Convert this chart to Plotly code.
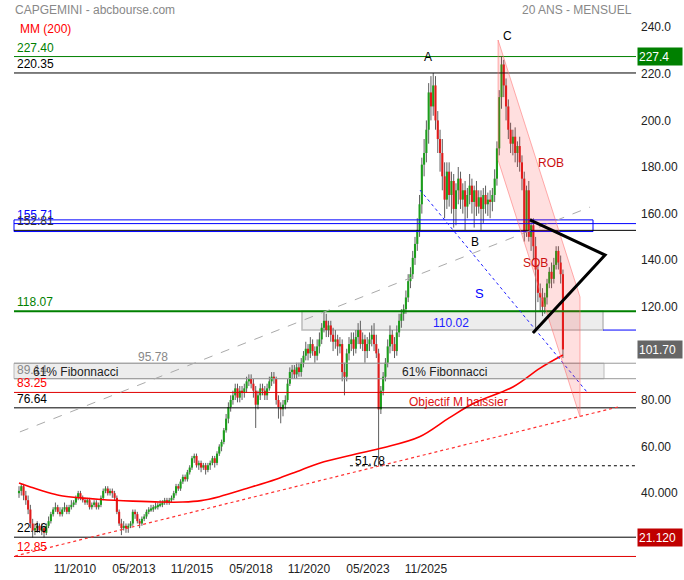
import plotly.graph_objects as go

# ---------------- data (monthly candles, 20 years) ----------------
open_ = [
    40, 41, 43, 39, 37, 33, 27, 24, 25, 26, 24, 25,
    23, 26, 28, 31, 33, 34, 32, 31, 33, 34, 32, 34,
    35, 36, 38, 40, 38, 37, 36, 37, 34, 35, 36, 34,
    35, 38, 41, 42, 40, 41, 40, 38, 32, 27, 25, 26,
    25, 26, 27, 32, 31, 28, 27, 29, 30, 32, 33, 33,
    34, 34, 35, 35, 36, 37, 36, 37, 38, 40, 43, 42,
    45, 47, 46, 49, 51, 55, 56, 52, 53, 51, 52, 50,
    52, 53, 55, 53, 57, 60, 62, 67, 72, 77, 80, 82,
    85, 81, 84, 83, 85, 88, 89, 87, 84, 78, 82, 85,
    84, 82, 85, 88, 90, 89, 80, 77, 76, 78, 80, 87,
    92, 93, 91, 94, 92, 96, 99, 102, 100, 104, 101, 99,
    103, 106, 111, 114, 110, 112, 108, 105, 106, 103, 104, 92,
    90, 100, 104, 106, 102, 107, 110, 104, 106, 101, 104, 106,
    108, 104, 100, 76, 84, 90, 96, 103, 108, 104, 101, 109,
    114, 117, 119, 124, 131, 134, 141, 147, 153, 164, 181, 186,
    196, 212, 206, 215, 200, 192, 186, 176, 166, 178, 168, 174,
    162, 170, 175, 166, 170, 163, 168, 172, 165, 170, 163, 167,
    162, 168, 164, 166, 165, 168, 175, 188, 210, 224, 215, 206,
    196, 190, 193, 186, 189, 182, 175, 152, 170, 150, 155, 146,
    136, 126, 124, 120, 124, 130, 135, 132, 138, 144, 139, 134,
]
high = [
    43, 44, 44, 41, 39, 35, 29, 27, 28, 27, 27, 26,
    27, 30, 32, 34, 36, 35, 34, 34, 36, 35, 35, 37,
    37, 39, 41, 41, 39, 38, 38, 38, 36, 37, 37, 36,
    39, 42, 43, 43, 42, 42, 41, 39, 33, 29, 28, 27,
    27, 28, 33, 33, 32, 29, 30, 31, 33, 34, 35, 35,
    36, 36, 37, 37, 38, 38, 38, 39, 41, 44, 44, 46,
    48, 48, 50, 52, 56, 57, 57, 54, 54, 53, 53, 53,
    54, 56, 56, 58, 61, 63, 68, 74, 79, 82, 84, 87,
    87, 86, 86, 87, 90, 91, 91, 89, 86, 84, 87, 87,
    86, 87, 90, 92, 92, 90, 82, 79, 80, 82, 89, 94,
    95, 95, 96, 96, 98, 101, 105, 104, 107, 106, 103, 106,
    109, 113, 118, 117, 114, 114, 111, 110, 108, 107, 106, 96,
    102, 107, 109, 109, 110, 113, 114, 109, 108, 107, 109, 112,
    113, 108, 102, 86, 92, 98, 106, 112, 110, 107, 112, 117,
    119, 121, 127, 134, 137, 144, 150, 158, 168, 184, 192, 200,
    216, 219, 220.35, 219, 204, 196, 192, 182, 182, 182, 178, 177,
    173, 180, 178, 173, 174, 171, 177, 175, 172, 174, 170, 170,
    171, 172, 169, 170, 171, 179, 191, 213, 227.4, 226, 218, 209,
    199, 196, 197, 191, 193, 185, 178, 172, 174, 158, 158, 150,
    138, 130, 128, 126, 132, 137, 139, 141, 146, 146, 142, 136,
]
low = [
    38, 39, 37, 35, 31, 25, 21, 22, 23, 23, 22, 21,
    22, 25, 27, 30, 32, 31, 30, 30, 32, 31, 31, 33,
    34, 35, 37, 37, 36, 35, 35, 33, 33, 34, 33, 33,
    34, 37, 40, 39, 39, 38, 37, 31, 26, 22, 24, 23,
    23, 25, 26, 29, 27, 25, 26, 28, 29, 31, 32, 32,
    33, 33, 34, 34, 35, 35, 35, 36, 37, 39, 41, 41,
    44, 45, 45, 48, 50, 53, 51, 50, 49, 50, 48, 49,
    50, 52, 51, 52, 56, 58, 61, 66, 70, 75, 78, 80,
    79, 79, 80, 81, 83, 86, 85, 81, 68, 76, 80, 82,
    80, 80, 84, 86, 87, 78, 72, 70, 73, 76, 79, 86,
    89, 89, 89, 90, 90, 94, 97, 97, 98, 99, 96, 97,
    100, 104, 109, 107, 107, 105, 101, 102, 99, 100, 88, 82,
    88, 97, 101, 99, 100, 104, 102, 101, 96, 98, 101, 103,
    101, 98, 51.78, 74, 82, 88, 94, 100, 101, 98, 99, 107,
    111, 114, 117, 122, 128, 132, 138, 144, 150, 160, 176, 182,
    190, 200, 202, 196, 186, 178, 170, 158, 162, 163, 160, 154,
    155, 164, 162, 160, 153, 158, 164, 160, 154, 159, 160, 153,
    156, 160, 159, 158, 161, 165, 172, 185, 205, 210, 200, 192,
    186, 185, 182, 180, 178, 170, 148, 150, 148, 144, 140, 109,
    122, 118, 116, 117, 121, 128, 128, 130, 136, 136, 130, 98,
]
close = [
    41, 43, 39, 37, 33, 27, 24, 25, 26, 24, 25, 23,
    26, 28, 31, 33, 34, 32, 31, 33, 34, 32, 34, 35,
    36, 38, 40, 38, 37, 36, 37, 34, 35, 36, 34, 35,
    38, 41, 42, 40, 41, 40, 38, 32, 27, 25, 26, 25,
    26, 27, 32, 31, 28, 27, 29, 30, 32, 33, 33, 34,
    34, 35, 35, 36, 37, 36, 37, 38, 40, 43, 42, 45,
    47, 46, 49, 51, 55, 56, 52, 53, 51, 52, 50, 52,
    53, 55, 53, 57, 60, 62, 67, 72, 77, 80, 82, 85,
    81, 84, 83, 85, 88, 89, 87, 84, 78, 82, 85, 84,
    82, 85, 88, 90, 89, 80, 77, 76, 78, 80, 87, 92,
    93, 91, 94, 92, 96, 99, 102, 100, 104, 101, 99, 103,
    106, 111, 114, 110, 112, 108, 105, 106, 103, 104, 92, 90,
    100, 104, 106, 102, 107, 110, 104, 106, 101, 104, 106, 108,
    104, 100, 76, 84, 90, 96, 103, 108, 104, 101, 109, 114,
    117, 119, 124, 131, 134, 141, 147, 153, 164, 181, 186, 196,
    212, 206, 215, 200, 192, 186, 176, 166, 178, 168, 174, 162,
    170, 175, 166, 170, 163, 168, 172, 165, 170, 163, 167, 162,
    168, 164, 166, 165, 168, 175, 188, 210, 224, 215, 206, 196,
    190, 193, 186, 189, 182, 175, 152, 170, 150, 155, 146, 136,
    126, 124, 120, 124, 130, 135, 132, 138, 144, 139, 134, 101.7,
]
months = list(range(len(close)))

# MM (200) read at selected months
ma_month = [0, 5, 12, 18, 27, 36, 50, 62, 72, 80, 88, 100, 113, 124, 134, 148,
            160, 176, 189, 200, 217, 229, 239]
ma_value = [44.4, 42.7, 40.5, 39.0, 38.0, 37.3, 36.6, 36.2, 36.2, 36.8, 38.5, 42.0,
            46.0, 50.0, 53.5, 56.8, 59.5, 64.2, 72.3, 78.7, 85.6, 93.7, 99.3]

x_tick_pos = [24.6, 50.5, 76.0, 101.9, 127.4, 153.3, 178.8]
x_tick_text = ["11/2010", "05/2013", "11/2015", "05/2018", "11/2020", "05/2023", "11/2025"]
y_tick_vals = [240, 220, 200, 180, 160, 140, 120, 80, 60, 40]
y_tick_text = ["240.0", "220.0", "200.0", "180.00", "160.00", "140.00", "120.00",
               "80.00", "60.00", "40.000"]

# horizontal levels: (value, colour, width, left label)
levels = [
    (227.40, "#008000", 1, "227.40"),
    (220.35, "#000000", 1, "220.35"),
    (155.71, "#0000ff", 1, "155.71"),
    (152.81, "#000000", 1, "152.81"),
    (118.07, "#008000", 2, "118.07"),
    (95.78, "#999999", 1, None),
    (89.14, "#999999", 1, "89.14"),
    (83.25, "#e00000", 1, "83.25"),
    (76.64, "#000000", 1, "76.64"),
    (21.12, "#000000", 1, "22.16"),
    (12.85, "#e00000", 1, "12.85"),
]
label_colors = {"227.40": "#008000", "220.35": "#000000", "155.71": "#0000ff",
                "152.81": "#333333", "118.07": "#008000", "89.14": "#888888",
                "83.25": "#ff0000", "76.64": "#000000", "22.16": "#000000",
                "12.85": "#ff0000"}

# ---------------- geometry helpers ----------------
W, H = 684, 580
L_M, R_M, T_M, B_M = 14, 48, 20, 20
PW, PH = W - L_M - R_M, H - T_M - B_M
XR = [-2.2, 271.1]
YR = [11.33, 243.09]


def px(xp):
    return (xp - L_M) / PW


def py(yp):
    return (H - B_M - yp) / PH


fig = go.Figure()

# wicks
wx, wy = [], []
for m, h, l in zip(months, high, low):
    wx += [m, m, None]
    wy += [l, h, None]
fig.add_trace(go.Scatter(x=wx, y=wy, mode="lines", line=dict(color="#5e5e5e", width=1),
                         hoverinfo="skip"))

# bodies
for up, col in [(True, "#1c9e1c"), (False, "#e01a1a")]:
    bx, by = [], []
    for m, o, c in zip(months, open_, close):
        if (c >= o) == up:
            lo, hi = min(o, c), max(o, c)
            if hi - lo < 0.9:
                mid = (hi + lo) / 2
                lo, hi = mid - 0.45, mid + 0.45
            bx += [m, m, None]
            by += [lo, hi, None]
    fig.add_trace(go.Scatter(x=bx, y=by, mode="lines", line=dict(color=col, width=2.1),
                             hoverinfo="skip"))

# moving average
fig.add_trace(go.Scatter(x=ma_month, y=ma_value, mode="lines",
                         line=dict(color="#ff0000", width=1.6, shape="spline"),
                         hoverinfo="skip"))

shapes = []
# zones (below)
shapes.append(dict(type="rect", xref="paper", yref="y", x0=px(14), x1=px(604), y0=89.14, y1=95.78,
                   fillcolor="rgba(215,215,215,0.45)", line=dict(color="#bbbbbb", width=1), layer="below"))
shapes.append(dict(type="rect", xref="paper", yref="y", x0=px(302), x1=px(603), y0=110.02, y1=118.07,
                   fillcolor="rgba(215,215,215,0.45)", line=dict(color="#bbbbbb", width=1.5), layer="below"))
shapes.append(dict(type="rect", xref="paper", yref="y", x0=px(14), x1=px(593), y0=152.3, y1=157.3,
                   fillcolor="rgba(0,0,0,0)", line=dict(color="#0000ff", width=1)))
# horizontal levels
for v, col, w, _ in levels:
    shapes.append(dict(type="line", xref="paper", yref="y", x0=0, x1=1, y0=v, y1=v,
                       line=dict(color=col, width=w)))
shapes.append(dict(type="line", xref="paper", yref="y", x0=px(603), x1=1, y0=110.02, y1=110.02,
                   line=dict(color="#0000ff", width=1)))
shapes.append(dict(type="line", xref="x", yref="y", x0=145.4, x1=XR[1], y0=51.78, y1=51.78,
                   line=dict(color="#000000", width=1, dash="dot")))

# trend lines
shapes.append(dict(type="line", xref="x", yref="y", x0=0.4, y0=66.3, x1=250.9, y1=162.8,
                   line=dict(color="#aaaaaa", width=1, dash="dash")))
shapes.append(dict(type="line", xref="x", yref="y", x0=176.2, y0=170.1, x1=250.0, y1=82.9,
                   line=dict(color="#2020ff", width=1, dash="dot")))
shapes.append(dict(type="line", xref="paper", yref="y", x0=px(15), y0=13.05, x1=px(618), y1=77.0,
                   line=dict(color="#ff3030", width=1.2, dash="dot")))
# pink channel
shapes.append(dict(type="path", xref="x", yref="y",
                   path="M 210.5 234.5 L 246.5 124.2 L 246.5 72.7 L 210.5 183.0 Z",
                   fillcolor="rgba(255,40,40,0.15)", line=dict(color="rgba(255,110,110,0.55)", width=1)))
# black triangle
shapes.append(dict(type="path", xref="x", yref="y",
                   path="M 224.5 157.3 L 257.5 142.2 L 225.8 108.8",
                   line=dict(color="#000000", width=3)))

ann = []
for v, col, w, lab in levels:
    if lab:
        ann.append(dict(xref="paper", yref="y", x=px(15), y=v, text=lab, showarrow=False,
                        xanchor="left", yanchor="bottom", font=dict(size=12, color=label_colors[lab])))


def txt(xp, yp, t, col="#000000", size=12):
    ann.append(dict(xref="paper", yref="paper", x=px(xp), y=py(yp), text=t, showarrow=False,
                    xanchor="center", yanchor="middle", font=dict(size=size, color=col)))


txt(153, 357, "95.78", "#888888")
txt(75, 372, "61% Fibonnacci", "#222222")
txt(444, 372, "61% Fibonnacci", "#222222")
txt(451, 323, "110.02", "#2020ff")
txt(458, 402, "Objectif M baissier", "#dd1111")
txt(370, 461, "51.78", "#000000")
txt(428, 57, "A")
txt(475, 242, "B")
txt(508, 36, "C")
txt(480, 293, "S", "#0000ff", 13)
txt(551, 163, "ROB", "#cc1111")
txt(535, 263, "SOB", "#cc1111")

ann.append(dict(xref="paper", yref="paper", x=px(13), y=py(10), text="CAPGEMINI - abcbourse.com",
                showarrow=False, xanchor="left", yanchor="middle", font=dict(size=12, color="#888888")))
ann.append(dict(xref="paper", yref="paper", x=px(18), y=py(29), text="MM (200)",
                showarrow=False, xanchor="left", yanchor="middle", font=dict(size=12, color="#ff0000")))
ann.append(dict(xref="paper", yref="paper", x=px(634), y=py(10), text="20 ANS - MENSUEL",
                showarrow=False, xanchor="right", yanchor="middle", font=dict(size=12, color="#888888")))

for v, t, bg in [(227.4, "227.4", "#008000"), (101.70, "101.70", "#666666"), (21.12, "21.120", "#c00000")]:
    ann.append(dict(xref="paper", yref="y", x=1, xshift=1, y=v, text=t, showarrow=False,
                    xanchor="left", yanchor="middle", align="left", width=42, height=15,
                    bgcolor=bg, borderpad=1, font=dict(size=12, color="#ffffff")))

fig.update_layout(
    width=W, height=H,
    margin=dict(l=L_M, r=R_M, t=T_M, b=B_M, autoexpand=False),
    paper_bgcolor="white", plot_bgcolor="white",
    showlegend=False,
    font=dict(family="Arial, Liberation Sans, sans-serif", size=12, color="#222222"),
    shapes=shapes, annotations=ann,
    xaxis=dict(range=XR, showgrid=False, zeroline=False, showline=False, automargin=False,
               tickmode="array", tickvals=x_tick_pos, ticktext=x_tick_text, ticks="",
               tickfont=dict(size=12, color="#222222")),
    yaxis=dict(range=YR, side="right", showgrid=False, zeroline=False, showline=False,
               automargin=False,
               tickmode="array", tickvals=y_tick_vals, ticktext=y_tick_text, ticks="",
               ticklabelstandoff=4, tickfont=dict(size=12, color="#222222")),
)

fig.write_html("out.html", config={"displayModeBar": False},
               post_script="document.body.style.margin='0';document.body.style.overflow='hidden';")
